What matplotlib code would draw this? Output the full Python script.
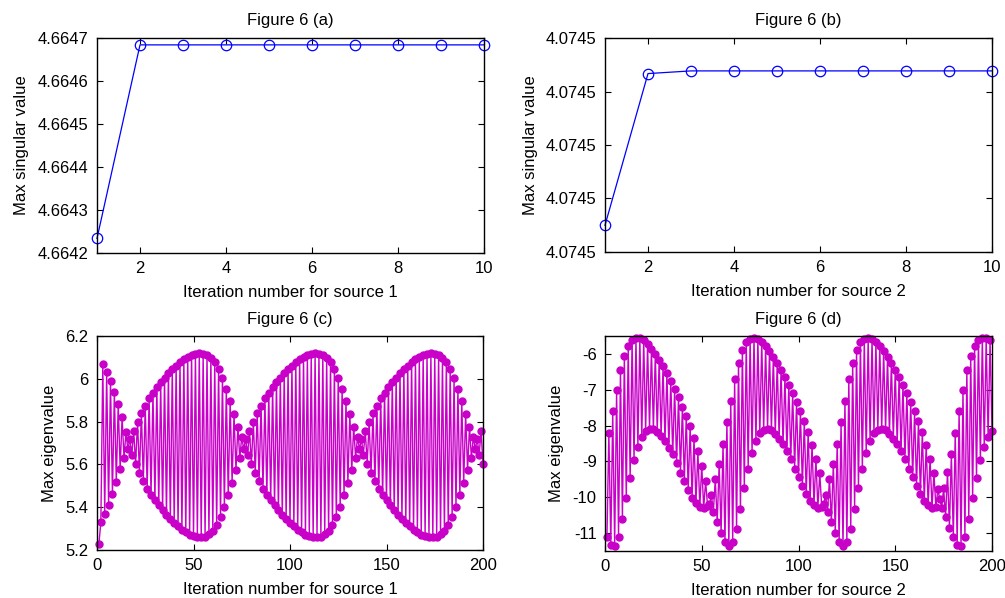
import matplotlib
matplotlib.use("Agg")
import matplotlib.pyplot as plt
from matplotlib.ticker import FormatStrFormatter

plt.rcParams['font.family'] = ['Liberation Sans', 'DejaVu Sans']
plt.rcParams['font.size'] = 12
plt.rcParams['axes.unicode_minus'] = False

# ---------------- data ----------------
iter_a = [1, 2, 3, 4, 5, 6, 7, 8, 9, 10]
sv_a = [4.664234, 4.664684, 4.664684, 4.664684, 4.664684,
        4.664684, 4.664684, 4.664684, 4.664684, 4.664684]

iter_b = [1, 2, 3, 4, 5, 6, 7, 8, 9, 10]
sv_b = [4.0744970, 4.07450267, 4.07450277, 4.07450277, 4.07450277,
        4.07450277, 4.07450277, 4.07450277, 4.07450277, 4.07450277]
ticks_b = [4.074496, 4.074498, 4.074500, 4.074502, 4.074504]
ticklabels_b = ["4.0745", "4.0745", "4.0745", "4.0745", "4.0745"]

iter_c = list(range(1, 201))
eig_c = [
    5.23, 5.33, 6.07, 5.37, 6.03, 5.41, 5.99, 5.46, 5.94, 5.52,
    5.88, 5.58, 5.82, 5.63, 5.75,
    # x = 16..75
    5.670, 5.720, 5.645, 5.755, 5.604, 5.798, 5.560, 5.840, 5.523, 5.875,
    5.487, 5.908, 5.458, 5.935, 5.432, 5.960, 5.408, 5.984, 5.385, 6.006,
    5.363, 6.027, 5.344, 6.045, 5.326, 6.062, 5.310, 6.078, 5.295, 6.091,
    5.283, 6.103, 5.272, 6.112, 5.265, 6.118, 5.260, 6.120, 5.261, 6.118,
    5.263, 6.113, 5.273, 6.099, 5.291, 6.077, 5.318, 6.045, 5.355, 6.003,
    5.401, 5.953, 5.455, 5.895, 5.515, 5.835, 5.575, 5.775, 5.630, 5.730,
    # x = 76..135
    5.670, 5.720, 5.645, 5.755, 5.604, 5.798, 5.560, 5.840, 5.523, 5.875,
    5.487, 5.908, 5.458, 5.935, 5.432, 5.960, 5.408, 5.984, 5.385, 6.006,
    5.363, 6.027, 5.344, 6.045, 5.326, 6.062, 5.310, 6.078, 5.295, 6.091,
    5.283, 6.103, 5.272, 6.112, 5.265, 6.118, 5.260, 6.120, 5.261, 6.118,
    5.263, 6.113, 5.273, 6.099, 5.291, 6.077, 5.318, 6.045, 5.355, 6.003,
    5.401, 5.953, 5.455, 5.895, 5.515, 5.835, 5.575, 5.775, 5.630, 5.730,
    # x = 136..195
    5.670, 5.720, 5.645, 5.755, 5.604, 5.798, 5.560, 5.840, 5.523, 5.875,
    5.487, 5.908, 5.458, 5.935, 5.432, 5.960, 5.408, 5.984, 5.385, 6.006,
    5.363, 6.027, 5.344, 6.045, 5.326, 6.062, 5.310, 6.078, 5.295, 6.091,
    5.283, 6.103, 5.272, 6.112, 5.265, 6.118, 5.260, 6.120, 5.261, 6.118,
    5.263, 6.113, 5.273, 6.099, 5.291, 6.077, 5.318, 6.045, 5.355, 6.003,
    5.401, 5.953, 5.455, 5.895, 5.515, 5.835, 5.575, 5.775, 5.630, 5.730,
    # x = 196..200
    5.670, 5.720, 5.645, 5.755, 5.604,
]

iter_d = list(range(1, 201))
eig_d = [
    # x = 1..53
    -11.12, -8.20, -11.33, -7.60, -11.35, -7.00, -11.10, -6.45, -10.60, -6.05,
    -10.03, -5.77, -9.46, -5.61, -8.97, -5.56, -8.60, -5.56, -8.32, -5.62,
    -8.15, -5.73, -8.09, -5.86, -8.10, -6.00, -8.17, -6.16, -8.30, -6.34,
    -8.43, -6.54, -8.62, -6.75, -8.80, -6.97, -9.05, -7.21, -9.32, -7.47,
    -9.54, -7.74, -9.80, -8.02, -10.02, -8.35, -10.16, -8.72, -10.26, -9.12,
    -10.30, -9.55, -10.24,
    # x = 54..112
    -10.20, -9.95, -10.40, -9.50, -10.70, -9.07, -11.00, -8.50, -11.25, -7.90,
    -11.37, -7.30, -11.25, -6.70, -10.88, -6.25, -10.32, -5.90, -9.74, -5.67,
    -9.20, -5.58, -8.77, -5.55, -8.44, -5.58, -8.22, -5.67, -8.11, -5.79,
    -8.09, -5.93, -8.13, -6.08, -8.23, -6.25, -8.37, -6.44, -8.52, -6.64,
    -8.72, -6.86, -8.92, -7.09, -9.20, -7.34, -9.43, -7.60, -9.68, -7.88,
    -9.92, -8.18, -10.10, -8.53, -10.22, -8.92, -10.29, -9.33, -10.28,
    # x = 113..172
    -10.20, -9.95, -10.40, -9.50, -10.70, -9.07, -11.00, -8.50, -11.25, -7.90,
    -11.37, -7.30, -11.25, -6.70, -10.88, -6.25, -10.32, -5.90, -9.74, -5.67,
    -9.20, -5.58, -8.77, -5.55, -8.44, -5.58, -8.22, -5.67, -8.11, -5.79,
    -8.09, -5.93, -8.13, -6.08, -8.23, -6.25, -8.37, -6.44, -8.52, -6.64,
    -8.72, -6.86, -8.92, -7.09, -9.20, -7.34, -9.43, -7.60, -9.68, -7.88,
    -9.92, -8.18, -10.10, -8.53, -10.22, -8.92, -10.29, -9.33, -10.28, -9.78,
    # x = 173..200
    -10.05, -10.30, -9.75, -10.55, -9.30, -10.85, -8.80, -11.12, -8.20, -11.33,
    -7.60, -11.35, -7.00, -11.10, -6.45, -10.60, -6.05, -10.03, -5.77, -9.46,
    -5.61, -8.97, -5.56, -8.60, -5.56, -8.32, -5.62, -8.15,
]

titles = ["Figure 6 (a)", "Figure 6 (b)", "Figure 6 (c)", "Figure 6 (d)"]
xlabels = ["Iteration number for source 1", "Iteration number for source 2",
           "Iteration number for source 1", "Iteration number for source 2"]
ylabels = ["Max singular value", "Max singular value",
           "Max eigenvalue", "Max eigenvalue"]

BLUE = "#0000ff"
MAG = "#c800c8"

W, H = 1005, 598
fig = plt.figure(figsize=(W / 100, H / 100), dpi=100)


def box(l, t, r, b):
    return [l / W, 1 - b / H, (r - l) / W, (b - t) / H]


axa = fig.add_axes(box(97, 38, 484, 253))
axb = fig.add_axes(box(605, 38, 992, 252))
axc = fig.add_axes(box(97, 336, 483, 550))
axd = fig.add_axes(box(605, 336, 992, 551))

axa.plot(iter_a, sv_a, color=BLUE, lw=0.9, marker='o', ms=7.5,
         mfc='none', mec=BLUE, mew=0.9, clip_on=False)
axa.set_xlim(1, 10)
axa.set_ylim(4.6642, 4.6647)
axa.set_xticks([2, 4, 6, 8, 10])
axa.set_yticks([4.6642, 4.6643, 4.6644, 4.6645, 4.6646, 4.6647])
axa.yaxis.set_major_formatter(FormatStrFormatter('%.4f'))

axb.plot(iter_b, sv_b, color=BLUE, lw=0.9, marker='o', ms=7.5,
         mfc='none', mec=BLUE, mew=0.9, clip_on=False)
axb.set_xlim(1, 10)
axb.set_ylim(ticks_b[0], ticks_b[-1])
axb.set_xticks([2, 4, 6, 8, 10])
axb.set_yticks(ticks_b)
axb.set_yticklabels(ticklabels_b)

axc.plot(iter_c, eig_c, color=MAG, lw=1.0, marker='o', ms=5,
         mfc=MAG, mec=MAG, clip_on=False)
axc.set_xlim(0, 200)
axc.set_ylim(5.2, 6.2)
axc.set_xticks([0, 50, 100, 150, 200])
axc.set_yticks([5.2, 5.4, 5.6, 5.8, 6.0, 6.2])
axc.yaxis.set_major_formatter(FormatStrFormatter('%g'))

axd.plot(iter_d, eig_d, color=MAG, lw=1.0, marker='o', ms=5,
         mfc=MAG, mec=MAG, clip_on=False)
axd.set_xlim(0, 200)
axd.set_ylim(-11.5, -5.5)
axd.set_xticks([0, 50, 100, 150, 200])
axd.set_yticks([-11, -10, -9, -8, -7, -6])
axd.yaxis.set_major_formatter(FormatStrFormatter('%g'))

for ax, t, xl, yl in zip([axa, axb, axc, axd], titles, xlabels, ylabels):
    ax.set_title(t, fontsize=12, pad=9)
    ax.set_xlabel(xl, fontsize=12, labelpad=6)
    ax.set_ylabel(yl, fontsize=12, labelpad=6)
    ax.tick_params(direction='in', top=True, right=True, length=4,
                   width=0.8, labelsize=12, pad=6)
    for s in ax.spines.values():
        s.set_linewidth(1.0)
        s.set_color('black')

fig.savefig("out.png", dpi=100)
